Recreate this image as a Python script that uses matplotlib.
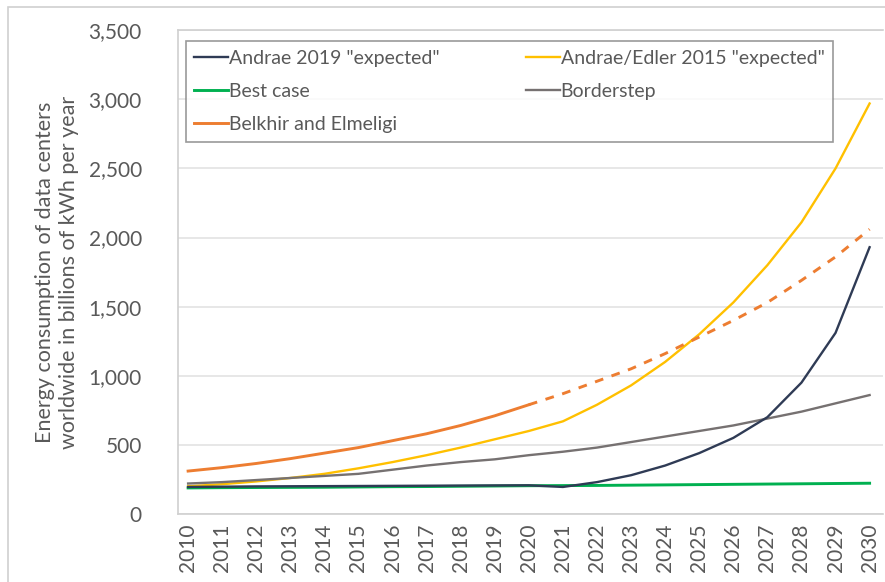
import numpy as np
import matplotlib.pyplot as plt
from matplotlib.patches import Rectangle

plt.rcParams['font.family'] = ['Lato', 'DejaVu Sans']

years = list(range(2010, 2031))

andrae2019 = [195, 197, 199, 200, 201, 202, 203, 204, 205, 206, 207,
              195, 230, 280, 350, 440, 550, 700, 950, 1310, 1930]
andrae_edler2015 = [200, 215, 235, 260, 290, 330, 375, 425, 480, 540, 600,
                    670, 790, 930, 1100, 1300, 1530, 1800, 2110, 2500, 2970]
best_case = [188, 190, 191, 192, 193, 195, 197, 198, 200, 202, 204,
             205, 206, 208, 210, 212, 214, 216, 218, 220, 222]
borderstep = [220, 230, 245, 260, 275, 290, 320, 350, 375, 395, 425,
              450, 480, 520, 560, 600, 640, 690, 740, 800, 860]
belkhir = [310, 335, 365, 400, 440, 480, 530, 580, 640, 710, 790,
           870, 960, 1050, 1160, 1280, 1400, 1530, 1690, 1860, 2060]
split_year = 2020

yticks = [0, 500, 1000, 1500, 2000, 2500, 3000, 3500]
ylabel = 'Energy consumption of data centers\nworldwide in billions of kWh per year'

c_dark = '#2f3b55'
c_yel = '#ffc000'
c_grn = '#00b050'
c_gray = '#767171'
c_org = '#ed7d31'
txt = '#595959'

fig = plt.figure(figsize=(8.85, 5.82), dpi=100)
ax = fig.add_axes([0.201, 0.117, 0.797, 0.831])

fig.patches.append(Rectangle((8 / 885, -0.1), 1.2, 1 - 7 / 582 + 0.1, transform=fig.transFigure,
                             fill=False, ec='#d0d0d0', lw=1.2))

lw = 1.7
h1, = ax.plot(years, andrae2019, c=c_dark, lw=lw, label='Andrae 2019 "expected"', zorder=4)
h2, = ax.plot(years, andrae_edler2015, c=c_yel, lw=lw, label='Andrae/Edler 2015 "expected"', zorder=3)
h3, = ax.plot(years, best_case, c=c_grn, lw=lw + 0.4, label='Best case', zorder=3)
h4, = ax.plot(years, borderstep, c=c_gray, lw=lw, label='Borderstep', zorder=3)
i = years.index(split_year)
h5, = ax.plot(years[:i + 1], belkhir[:i + 1], c=c_org, lw=lw + 0.4, label='Belkhir and Elmeligi', zorder=3)
ax.plot(years[i:], belkhir[i:], c=c_org, lw=lw + 0.4, ls=(0, (3, 3)), zorder=3)

ax.set_xlim(2009.7, 2030.4)
ax.set_ylim(0, 3500)
ax.set_yticks(yticks)
ax.set_yticklabels(['{:,}'.format(v) for v in yticks])
ax.set_xticks(years)
ax.set_xticklabels([str(y) for y in years], rotation=90)
ax.grid(axis='y', color='#e3e3e3', lw=1.2)
ax.set_axisbelow(True)
ax.tick_params(axis='both', length=0, labelsize=15, colors=txt, pad=7)
ax.tick_params(axis='y', pad=26)
for s in ['left', 'top', 'bottom']:
    ax.spines[s].set_color('#d0d0d0')
    ax.spines[s].set_linewidth(1.2)
ax.spines['right'].set_visible(False)

ax.set_ylabel(ylabel, fontsize=15.5, color=txt, labelpad=7, linespacing=1.25)

leg = ax.legend([h1, h3, h5, h2, h4],
                [h.get_label() for h in [h1, h3, h5, h2, h4]],
                ncol=2, loc='upper left', bbox_to_anchor=(0.011, 0.977), fontsize=14,
                frameon=True, fancybox=False, edgecolor='#808080', handlelength=1.75,
                handletextpad=0.05, columnspacing=4.4, labelspacing=0.82, borderpad=0.45,
                borderaxespad=0, labelcolor=txt)
leg.get_frame().set_linewidth(1.2)

plt.savefig('out.png', dpi=100)
plt.close()
